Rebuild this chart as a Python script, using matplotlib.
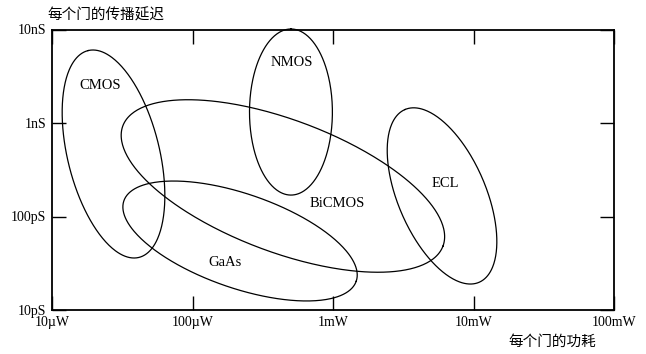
import matplotlib
matplotlib.use('Agg')
import matplotlib.pyplot as plt
import numpy as np

plt.rcParams['font.family'] = ['Liberation Serif', 'Noto Sans CJK SC', 'DejaVu Sans']

# technology regions: centre power (uW), centre delay (ps),
# semi axes (in decades of power) and tilt of the long axis (deg, as drawn)
techs = ['CMOS', 'NMOS', 'BiCMOS', 'GaAs', 'ECL']
power_uw = [27.4, 502, 440, 218, 5970]
delay_ps = [466, 1310, 212, 54.7, 166]
semi_a = [0.758, 0.591, 1.217, 0.875, 0.669]
semi_b = [0.327, 0.295, 0.470, 0.335, 0.313]
tilt = [103.8, 90, -20.6, -19.1, 113.2]

# where the names are written (uW, ps)
label_uw = [22, 510, 1070, 170, 6270]
label_ps = [2490, 4490, 139, 32.6, 228]

x_ticks = [1e1, 1e2, 1e3, 1e4, 1e5]
x_labels = ['10µW', '100µW', '1mW', '10mW', '100mW']
y_ticks = [1e1, 1e2, 1e3, 1e4]
y_labels = ['10pS', '100pS', '1nS', '10nS']

fig = plt.figure(figsize=(6.46, 3.54), dpi=100)
ax = fig.add_axes([52/646, 1-310/354, 562/646, 280.5/354])
ax.set_xscale('log')
ax.set_yscale('log')
ax.set_xlim(1e1, 1e5)
ax.set_ylim(1e1, 1e4)

# pixels per decade in x over pixels per decade in y
bb = ax.get_position()
k = (bb.width*646/4) / (bb.height*354/3)

th = np.linspace(0, 2*np.pi, 400)
for i in range(len(techs)):
    ang = np.radians(tilt[i])
    u = semi_a[i]*np.cos(th)
    v = semi_b[i]*np.sin(th)
    dx = u*np.cos(ang) - v*np.sin(ang)
    dy = (u*np.sin(ang) + v*np.cos(ang))*k
    ax.plot(power_uw[i]*10**dx, delay_ps[i]*10**dy, color='black', lw=0.9, clip_on=False)
    ax.text(label_uw[i], label_ps[i], techs[i], ha='center', va='center', fontsize=10.5)

ax.set_xticks(x_ticks)
ax.set_xticklabels(x_labels, fontsize=10)
ax.set_yticks(y_ticks)
ax.set_yticklabels(y_labels, fontsize=10)
ax.minorticks_off()
ax.tick_params(direction='in', length=10, width=1, top=True, right=True, pad=4)
for s in ax.spines.values():
    s.set_linewidth(1.3)

fig.text(47/646, 1-15/354, '每个门的传播延迟', ha='left', va='center', fontsize=10.5,
         family=['Noto Sans CJK SC', 'DejaVu Sans'])
fig.text(508/646, 1-342/354, '每个门的功耗', ha='left', va='center', fontsize=10.5,
         family=['Noto Sans CJK SC', 'DejaVu Sans'])

fig.savefig('out.png', dpi=100)
